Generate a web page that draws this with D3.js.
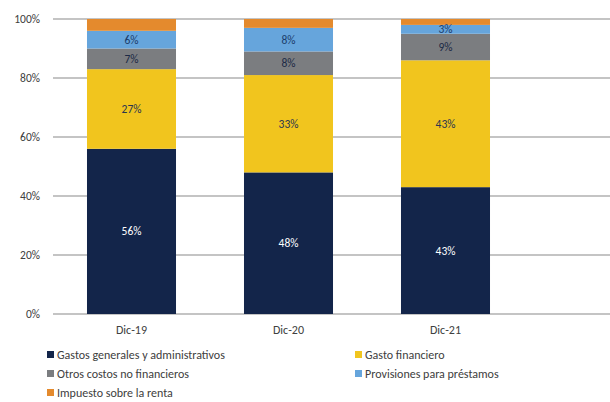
<!DOCTYPE html>
<html>
<head>
<meta charset="utf-8">
<script src="https://cdn.jsdelivr.net/npm/d3@7"></script>
<style>
  body { margin: 0; background: #fff; }
  text { font-family: Calibri, Carlito, "Liberation Sans", sans-serif; }
</style>
</head>
<body>
<svg width="610" height="402"></svg>
<script>
// data
var categories = ["Dic-19", "Dic-20", "Dic-21"];
var gastosGenerales = [56, 48, 43];
var gastoFinanciero = [27, 33, 43];
var otrosCostos = [7, 8, 9];
var provisiones = [6, 8, 3];
var impuesto = [4, 3, 2];
var yTicks = [0, 20, 40, 60, 80, 100];

var seriesNames = ["Gastos generales y administrativos", "Gasto financiero",
    "Otros costos no financieros", "Provisiones para préstamos", "Impuesto sobre la renta"];
var seriesValues = [gastosGenerales, gastoFinanciero, otrosCostos, provisiones, impuesto];
var colors = ["#13254a", "#f1c51e", "#7b7d80", "#66a5dc", "#e48a2d"];
var labelColors = ["#fff", "#2a3550", "#1c2a45", "#1c3d6b", null];

var svg = d3.select("svg"),
    margin = {top: 19, right: 0, bottom: 88, left: 53},
    width = 610 - margin.left - margin.right,
    height = 402 - margin.top - margin.bottom,
    g = svg.append("g").attr("transform", "translate(" + margin.left + "," + margin.top + ")");

var rows = categories.map(function(c, i) {
    var r = {cat: c};
    seriesNames.forEach(function(s, j) { r[s] = seriesValues[j][i]; });
    return r;
});

var stack = d3.stack().keys(seriesNames)(rows);

var x = d3.scaleBand().domain(categories).range([0, 471]).paddingInner(0.433).paddingOuter(0.2165);
var y = d3.scaleLinear().domain([0, 100]).range([height, 0]);

// gridlines
g.selectAll("line.grid")
    .data(yTicks)
    .enter().append("line")
    .attr("class", "grid")
    .attr("x1", 0).attr("x2", width)
    .attr("y1", function(d) { return y(d); })
    .attr("y2", function(d) { return y(d); })
    .style("stroke", "#8a8a8a")
    .style("stroke-width", 1.2);

g.selectAll("text.ytick")
    .data(yTicks)
    .enter().append("text")
    .attr("class", "ytick")
    .attr("x", -13)
    .attr("y", function(d) { return y(d); })
    .attr("dy", "0.35em")
    .style("text-anchor", "end")
    .style("font-size", "11.5px")
    .style("fill", "#404040")
    .text(function(d) { return d + "%"; });

var layers = g.selectAll("g.layer")
    .data(stack)
    .enter().append("g")
    .attr("class", "layer")
    .style("fill", function(d, i) { return colors[i]; });

layers.selectAll("rect")
    .data(function(d) { return d; })
    .enter().append("rect")
    .attr("x", function(d) { return x(d.data.cat); })
    .attr("width", x.bandwidth())
    .attr("y", function(d) { return y(d[1]); })
    .attr("height", function(d) { return y(d[0]) - y(d[1]); });

// segment labels
stack.forEach(function(s, i) {
    if (!labelColors[i]) return;
    g.selectAll(null)
        .data(s)
        .enter().append("text")
        .attr("x", function(d) { return x(d.data.cat) + x.bandwidth() / 2; })
        .attr("y", function(d) { return y((d[0] + d[1]) / 2); })
        .attr("dy", "0.35em")
        .style("text-anchor", "middle")
        .style("font-size", "11.5px")
        .style("fill", labelColors[i])
        .text(function(d) { return (d[1] - d[0]) + "%"; });
});

// x labels
g.selectAll("text.xlab")
    .data(categories)
    .enter().append("text")
    .attr("class", "xlab")
    .attr("x", function(d) { return x(d) + x.bandwidth() / 2; })
    .attr("y", height + 20)
    .style("text-anchor", "middle")
    .style("font-size", "12px")
    .style("fill", "#404040")
    .text(function(d) { return d; });

// legend
var legendPos = [[47, 355], [355, 355], [47, 374], [355, 374], [47, 393]];
var legend = svg.selectAll("g.legend")
    .data(seriesNames)
    .enter().append("g")
    .attr("class", "legend")
    .attr("transform", function(d, i) { return "translate(" + legendPos[i][0] + "," + legendPos[i][1] + ")"; });

legend.append("rect")
    .attr("x", 0).attr("y", -4)
    .attr("width", 7).attr("height", 7)
    .style("fill", function(d, i) { return colors[i]; });

legend.append("text")
    .attr("x", 10)
    .attr("dy", "0.35em")
    .style("font-size", "12px")
    .style("fill", "#404040")
    .text(function(d) { return d; });
</script>
</body>
</html>
